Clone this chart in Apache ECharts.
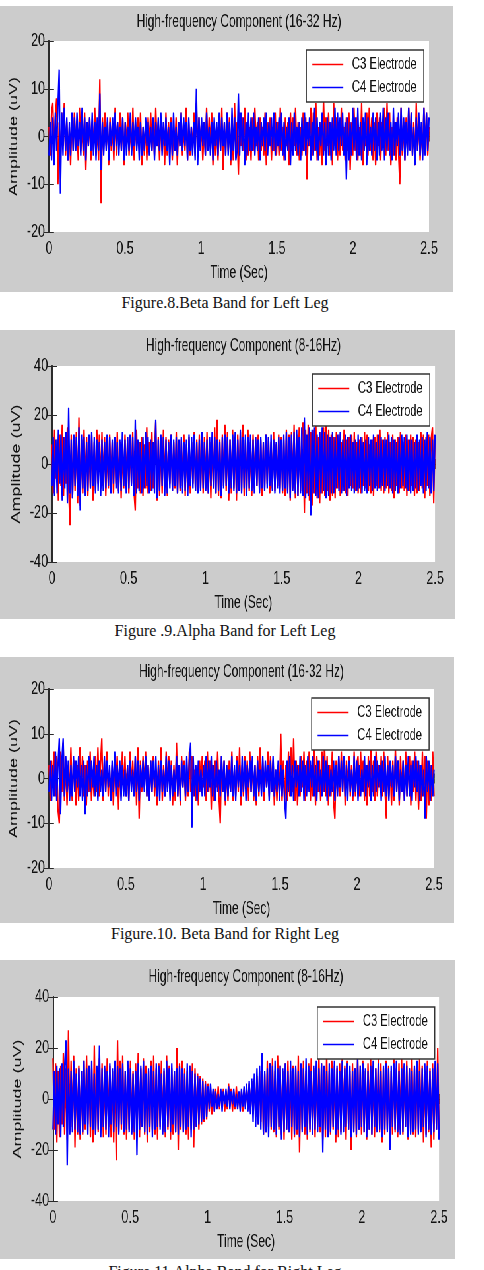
<!DOCTYPE html>
<html>
<head>
<meta charset="utf-8">
<script src="https://cdn.jsdelivr.net/npm/echarts@6/dist/echarts.min.js"></script>
<style>
  html, body { margin: 0; padding: 0; background: #fff; }
  body { width: 484px; height: 1270px; position: relative; overflow: hidden; }
  .panel { position: absolute; left: 0; background: #cccccc; transform-origin: 0 0; }
  .caption { position: absolute; left: 0; width: 450px; text-align: center;
    font-family: 'Liberation Serif', 'Times New Roman', serif; font-size: 16px; color: #111; }
</style>
</head>
<body>
<div class="panel" id="p1"></div>
<div class="caption" style="top:294px">Figure.8.Beta Band for Left Leg</div>
<div class="panel" id="p2"></div>
<div class="caption" style="top:622px">Figure .9.Alpha Band for Left Leg</div>
<div class="panel" id="p3"></div>
<div class="caption" style="top:925px">Figure.10. Beta Band for Right Leg</div>
<div class="panel" id="p4"></div>
<div class="caption" style="top:1263px">Figure.11.Alpha Band for Right Leg</div>
<script>
const electrodes = ['C3 Electrode', 'C4 Electrode'];
const titles = ['High-frequency Component (16-32 Hz)', 'High-frequency Component (8-16Hz)'];
const duration = 2.5;

// amplitude (uV), evenly spaced over 0 - 2.5 s
const leftBetaC3 = [
  2, -4, 5, 7, -3, 4, 8, -10, 3, -6, 5, -2, 7, -4, 3, -5, 2, -6, 4, -3,
  5, -2, 3, -5, 6, -3, 2, -4, 5, -7, 3, -2, 4, -5, 3, -3, 6, -4, 2, -5,
  12, -14, 4, -3, 5, -2, 3, -6, 4, -3, 2, -5, 6, -4, 3, -2, 5, -3, 4, -6,
  3, -2, 5, -4, 2, -3, 6, -5, 3, -2, 4, -3, 5, -6, 2, -4, 3, -5, 4, -2,
  5, -3, 2, -4, 6, -2, 3, -5, 4, -3, 2, -6, 5, -4, 3, -2, 4, -5, 2, -3,
  4, -6, 3, -2, 5, -4, 2, -3, 6, -5, 3, -4, 2, -3, 5, -4, 7, -3, 4, -2,
  3, -5, 2, -4, 6, -3, 4, -2, 5, -6, 3, -4, 2, -5, 4, -3, 6, -7, 3, -4,
  5, -3, 4, -6, 2, -5, 7, -4, 3, -8, 5, -2, 4, -3, 6, -5, 3, -4, 2, -5,
  4, -3, 6, -2, 3, -5, 4, -3, 2, -4, 5, -6, 3, -2, 4, -5, 2, -3, 5, -4,
  3, -4, 6, -3, 2, -5, 4, -2, 3, -6, 5, -3, 4, -2, 6, -4, 3, -5, 2, -4,
  5, -3, 4, -9, 3, -2, 6, -4, 5, -3, 7, -5, 2, -4, 3, -6, 8, -3, 4, -2,
  5, -4, 3, -6, 7, -2, 4, -5, 3, -4, 6, -3, 2, -5, 4, -3, 5, -7, 3, -4,
  6, -3, 4, -5, 2, -4, 7, -6, 3, -2, 5, -4, 6, -3, 4, -5, 3, -6, 5, -2,
  4, -5, 3, -2, 6, -4, 7, -3, 5, -6, 2, -4, 3, -5, 4, -3, -10, 6, -4, 3,
  -5, 4, -3, 6, -2, 5, -4, 3, -6, 7, -3, 4, -5, 2, -4, 6, -3, 5, -4, 2
];
const leftBetaC4 = [
  -4, 3, -5, 4, -6, 5, -3, 6, 14, -12, 5, -4, 6, -3, 4, -5, 3, -4, 5, -3,
  4, -3, 5, -2, 3, -4, 6, -3, 4, -5, 3, -2, 4, -3, 5, -4, 3, -5, 4, -3,
  9, -7, 3, -4, 2, -3, 4, -5, 3, -2, 4, -3, 5, -2, 3, -4, 2, -3, 4, -5,
  3, -4, 2, -3, 5, -4, 3, -2, 4, -3, 2, -5, 3, -4, 2, -3, 4, -2, 3, -4,
  2, -3, 4, -5, 3, -2, 4, -3, 5, -4, 3, -2, 4, -3, 2, -6, 3, -4, 5, -3,
  2, -4, 3, -2, 5, -3, 4, -2, 3, -5, 4, -3, 2, -4, 3, -5, 10, -6, 4, -3,
  4, -2, 3, -4, 5, -3, 2, -4, 3, -5, 4, -2, 3, -4, 5, -3, 4, -2, 3, -4,
  5, -4, 3, -5, 6, -3, 4, -5, -3, 9, -4, 5, -3, 4, -6, 3, -4, 5, -3, 4,
  -3, 5, -4, 2, -3, 4, -5, 3, -2, 4, -3, 5, -4, 3, -2, 4, -3, 5, -4, 3,
  -2, 4, -3, 5, -4, 3, -5, 2, -3, 4, -6, 3, -4, 5, -3, 2, -4, 3, -5, 4,
  -3, 5, -4, 3, -2, 4, -5, 3, -4, 6, -3, 4, -5, 3, -2, 5, -4, 3, -6, 4,
  -4, 3, -5, 4, -3, 6, -4, 5, -3, 4, -2, 5, -4, 3, -9, 4, -5, 3, -4, 6,
  -3, 4, -5, 6, -4, 3, -5, 4, -3, 5, -6, 4, -3, 2, -4, 5, -3, 4, -5, 3,
  -4, 5, -3, 6, -5, 4, -3, 5, -4, 3, -5, 6, -4, 3, -2, 5, -4, 6, -3, 4,
  -5, 3, -4, 6, -3, 5, -4, 2, -6, 4, -3, 5, -4, 3, -5, 6, -4, 5, -3, 4
];
const leftAlphaC3 = [
  8, -12, 14, -6, 10, -15, 12, -9, 16, -13, 11, -8, 15, -10, -25, 12, -14, 9, -11, 13,
  -16, 19, -17, 10, -12, 14, -9, 11, -13, 8, -10, 12, -15, 9, -11, 14, -8, 12, -10, 13,
  -9, 11, -13, 8, -10, 12, -7, 9, -12, 10, -8, 13, -11, 9, -14, 7, -10, 12, -9, 11,
  -12, 10, -8, 13, -11, -19, 14, -10, 9, -12, 11, -13, 8, -10, 15, -12, 9, -11, 13, -10,
  -10, 17, -15, 11, -13, 10, -12, 14, -9, 11, -13, 10, -8, 12, -11, 9, -10, 13, -12, 8,
  -11, 10, -9, 12, -13, 8, -10, 11, -12, 9, -8, 13, -11, 10, -9, 12, -10, 8, -12, 11,
  -10, 13, -12, 9, -14, 11, -10, 15, -12, 18, -13, 10, -14, 12, -9, 16, -11, 13, -15, 10,
  -12, 14, -10, 11, -15, 12, -9, 13, -11, 16, -13, 10, -12, 14, -11, 9, -13, 12, -10, 11,
  -9, 12, -11, 10, -13, 9, -10, 12, -8, 11, -12, 9, -10, 13, -11, 8, -9, 12, -10, 11,
  -12, 10, -13, 14, -11, 12, -15, 13, -10, 16, -14, 12, -13, 15, -11, 13, 17, -20, 14, -12,
  16, -15, 13, -17, 14, -12, 16, -14, 11, -16, 13, -12, 15, -13, 17, -11, 14, -15, 12, -13,
  11, -14, 13, -10, 12, -13, 9, -11, 14, -12, 10, -13, 11, -9, 12, -10, 13, -11, 9, -12,
  10, -12, 11, -9, 13, -10, 12, -11, 8, -12, 10, -13, 11, -9, 12, -10, 14, -11, 10, -12,
  11, -10, 13, -12, 9, -11, 12, -14, 10, -9, 11, -12, 13, -10, 9, -11, 12, -13, 10, -11,
  12, -9, 11, -13, 10, -12, 9, -11, 13, -10, 12, -14, 11, -9, 12, -13, 10, 15, -16, 11
];
const leftAlphaC4 = [
  -9, 11, -13, 10, -12, 14, -8, 12, -15, 11, -10, 13, -16, 23, -12, 10, -14, 12, -9, 11,
  -13, 15, -19, 12, -10, 11, -13, 9, -11, 12, -10, 13, -9, 11, -12, 10, -11, 9, -13, 10,
  -11, 9, -10, 12, -9, 11, -12, 10, -8, 11, -10, 9, -12, 10, -11, 13, -9, 10, -12, 11,
  -10, 12, -9, 11, -13, 18, -12, 10, -11, 9, -12, 11, -10, 13, -9, 11, -12, 10, -11, 9,
  -12, 18, -14, 10, -11, 12, -9, 11, -13, 10, -12, 9, -10, 12, -11, 10, -9, 11, -12, 10,
  -10, 11, -12, 9, -11, 10, -13, 12, -9, 11, -10, 12, -11, 9, -12, 10, -11, 13, -10, 9,
  -11, 10, -12, 11, -9, 13, -10, 11, -12, 10, -11, 9, -13, 11, -10, 12, -9, 11, -12, 10,
  -10, 12, -11, 13, -12, 10, -11, 14, -12, 11, -10, 12, -13, 11, -10, 12, -11, 10, -12, 11,
  -9, 10, -12, 11, -10, 9, -11, 12, -10, 11, -9, 12, -11, 10, -12, 9, -10, 11, -12, 10,
  -11, 12, -10, 13, -12, 11, -14, 12, -11, 13, -12, 14, -13, 11, -12, 15, -13, 19, -14, 12,
  -13, 15, -21, 14, -12, 15, -13, 12, -14, 13, -12, 15, -11, 13, -14, 12, -13, 11, -12, 13,
  -12, 11, -10, 12, -11, 13, -12, 10, -11, 12, -13, 11, -10, 12, -11, 9, -12, 10, -11, 12,
  -10, 11, -12, 9, -11, 10, -12, 11, -9, 10, -11, 12, -10, 9, -11, 12, -10, 11, -9, 10,
  -11, 10, -9, 12, -10, 11, -12, 10, -11, 9, -12, 11, -10, 12, -9, 11, -10, 12, -11, 10,
  -12, 10, -11, 9, -10, 12, -11, 10, -9, 11, -12, 10, -11, 13, -10, 11, -12, 10, -11, 12
];
const rightBetaC3 = [
  3, -5, 4, -2, 6, -4, 5, -7, -10, 6, -3, 8, -5, 4, -6, 3, -4, 7, -5, 2,
  4, -6, 3, -5, 7, -2, 5, -4, 3, -6, 4, -3, 6, -5, 2, -4, 5, -3, 7, -4,
  3, 9, -5, 4, -3, 6, -4, 2, -5, 3, -6, 4, -2, 5, -7, 3, -4, 6, -3, 5,
  -4, 3, -5, 6, -2, 4, -3, 5, -6, 7, -9, 4, -3, 5, -2, 6, -4, 3, -5, 4,
  -3, 5, -4, 2, -6, 4, -3, 7, -5, 3, -4, 6, -2, 5, -3, 4, -6, 3, -5, 8,
  -4, 3, -6, 5, -2, 4, -5, 3, -4, 6, -3, 5, -4, 2, -5, 3, -6, 4, -3, 5,
  -2, 4, -5, 6, -3, 4, -7, 3, -5, 4, -2, 6, -4, -10, 5, -3, 4, -6, 3, -5,
  4, -3, 6, -5, 2, -4, 5, -3, 7, -6, 3, -4, 5, -2, 4, -5, 6, -3, 4, -5,
  3, -6, 5, -4, 7, -3, 4, -5, 3, -2, 6, -4, 5, -3, 4, -6, 2, -5, 3, -4,
  10, -5, 4, -6, 3, -5, 6, -4, 7, -3, 9, -5, 4, -6, 3, -4, 5, -2, 6, -5,
  4, -3, 6, -5, 3, -4, 7, -6, 5, -3, 4, -5, 6, -3, 8, -4, 5, -6, 3, -4,
  6, -5, -9, 4, -3, 5, -4, 6, -3, 5, -6, 4, -2, 5, -4, 3, -5, 6, -4, 3,
  5, -4, 6, -3, 4, -5, 3, -6, 5, -4, 7, -3, 4, -5, 6, -4, 3, -2, 5, -4,
  6, -3, -9, 5, -4, 3, -6, 4, -5, 7, -3, 4, -6, 5, -3, 4, -5, 6, -4, 3,
  5, -6, 4, -3, 6, -5, 4, -7, 3, -5, 6, -4, 5, -9, 4, -6, 3, -5, 6, -4
];
const rightBetaC4 = [
  -3, 4, -5, 3, -4, 6, -5, 3, 9, -8, 4, 9, -4, 5, -3, 4, -5, 3, -4, 5,
  -3, 4, -2, 5, -4, 3, -5, 4, -8, 3, -4, 5, -3, 4, -2, 5, -4, 3, -5, 4,
  -3, 2, -4, 5, -3, 4, -2, 3, -5, 4, -3, 6, -4, 3, -2, 4, -5, 3, -4, 2,
  -4, 3, -5, 4, -3, 2, -4, 5, -3, 4, -5, 3, -2, 4, -3, 5, -4, 3, -5, 4,
  -3, 4, -2, 5, -4, 3, -5, 4, -3, 2, -4, 5, -3, 4, -5, 3, -4, 2, -3, 5,
  -4, 3, -5, 4, -2, 3, -4, 5, -3, 4, 8, -11, 5, -4, 3, -5, 4, -3, 2, -4,
  3, -4, 5, -3, 4, -2, 5, -4, 3, -5, 4, -3, 2, -4, 5, -3, 4, -5, 3, -4,
  2, -3, 5, -4, 3, -5, 4, -2, 3, -4, 5, -3, 4, -5, 3, -2, 4, -3, 5, -4,
  3, -5, 4, -3, 2, -4, 5, -3, 4, -2, 3, -5, 4, -3, 5, -4, 2, -3, 4, -5,
  3, -4, 2, -5, -9, 4, -3, 5, -4, 3, -5, 4, -2, 3, -4, 5, -3, 4, -5, 3,
  -4, 5, -3, 4, -2, 5, -4, 3, -5, 4, -3, 2, -4, 5, -3, 4, -5, 3, -4, 2,
  -3, 4, -5, 3, -4, 5, -2, 4, -3, 5, -4, 3, -5, 4, -3, 2, -4, 5, -3, 4,
  -5, 3, -4, 2, -3, 5, -4, 3, -2, 4, -5, 3, -4, 5, -3, 4, -2, 3, -5, 4,
  -3, 5, -4, 3, -5, 4, -2, 3, -4, 5, -3, 4, -5, 2, -3, 4, -5, 3, -4, 5,
  -4, 3, -5, 4, -2, 5, -3, 4, -5, 3, -4, 2, -9, 5, -3, 4, -5, 3, -4, 2
];
const rightAlphaC3 = [
  16, -12, 14, -17, 11, -15, 13, -10, 18, -14, 12, -16, 27, -13, 15, -11, 17, -19, 12, -14,
  13, -16, 11, -14, 15, -12, 17, -10, 13, -15, 12, -17, 21, -14, 11, -13, 16, -12, 14, -15,
  12, -14, 16, -11, 13, -15, 11, -17, 14, -24, 23, -13, 15, -12, 17, -14, 11, -16, 13, -12,
  15, -13, 11, -16, 14, -12, 18, -15, 12, -11, 16, -14, 13, -17, 11, -13, 15, -12, 17, -14,
  12, -16, 14, -11, 15, -13, 11, -15, 17, -12, 13, -16, 12, -14, 11, -13, 20, -20, 14, -12,
  15, -13, 12, -14, 11, -16, 13, -12, 14, -19, 12, -11, 10, -12, 9, -10, 8, -9, 7, -8,
  6, -5, 4, -6, 3, -5, 4, -3, 5, -4, 3, -2, 4, -5, 3, -4, 6, -3, 4, -5,
  3, -4, 5, -3, 2, -4, 3, -5, 4, -3, 5, -4, 6, -5, 7, -6, 8, -7, 9, -10,
  11, -9, 12, -14, 10, -13, 15, -11, 14, -12, 16, -13, 11, -15, 17, -12, 13, -14, 11, -16,
  14, -12, 15, -13, 11, -16, 13, -15, 12, -14, 17, -21, 13, -12, 15, -14, 11, -16, 14, -13,
  16, -14, 12, -15, 13, -11, 17, -13, 14, -16, 12, -15, 18, -13, 11, -14, 15, -12, 13, -17,
  12, -15, 14, -13, 16, -11, 13, -16, 15, -12, 11, -20, 14, -13, 12, -15, 17, -12, 13, -14,
  15, -13, 11, -16, 14, -12, 17, -14, 13, -15, 12, -11, 16, -13, 14, -17, 12, -14, 15, -12,
  13, -16, 11, -14, 17, -13, 12, -15, 14, -12, 16, -14, 13, -11, 15, -16, 12, -13, 18, -14,
  12, -15, 14, -13, 16, -12, 13, -17, 11, -14, 15, -13, 12, -19, 14, -16, 13, -12, 20, -15
];
const rightAlphaC4 = [
  -12, 11, -14, 13, -10, 12, -15, 14, -11, 13, 23, -26, 12, -14, 11, -13, 15, -12, 10, -13,
  12, -14, 11, -13, 15, -10, 12, -14, 13, -11, 15, -12, 10, -14, 13, -12, 21, -15, 12, -11,
  13, -12, 11, -15, 14, -10, 12, -13, 15, -11, 13, -14, 12, -10, 14, -13, 11, -12, 15, -13,
  12, -14, 10, -13, 11, -22, 14, -12, 13, -11, 15, -13, 10, -14, 12, -11, 13, -15, 11, -12,
  14, -11, 13, -12, 10, -14, 12, -13, 15, -11, 12, -13, 14, -10, 11, -13, 12, -14, 13, -11,
  12, -13, 10, -12, 14, -11, 13, -15, 11, -12, 10, -11, 9, -10, 8, -9, 7, -8, 6, -7,
  5, -4, 6, -3, 4, -5, 3, -4, 2, -3, 4, -5, 3, -2, 4, -3, 5, -4, 3, -2,
  4, -3, 2, -4, 3, -5, 4, -3, 5, -4, 6, -5, 7, -6, 8, -9, 10, -11, 12, -10,
  13, -12, 18, -14, 11, -13, 12, -15, 14, -11, 13, -12, 15, -14, 12, -11, 13, -16, 12, -13,
  14, -12, 11, -13, 15, -11, 12, -14, 13, -12, 11, -15, 14, -13, 12, -11, 16, -14, 13, -12,
  11, -14, 13, -12, 15, -13, 12, -11, 14, -21, 13, -12, 11, -15, 14, -13, 12, -11, 15, -14,
  13, -12, 11, -14, 15, -13, 12, -11, 14, -12, 13, -15, 11, -13, 12, -14, 16, -12, 13, -11,
  14, -13, 12, -15, 11, -12, 13, -14, 15, -11, 12, -13, 14, -12, 11, -15, 13, -12, 14, -13,
  12, -20, 13, -11, 14, -12, 15, -13, 11, -14, 12, -13, 14, -11, 13, -15, 12, -14, 11, -13,
  13, -12, 15, -14, 11, -13, 12, -11, 14, -15, 13, -12, 11, -14, 12, -13, 15, -12, 14, -16
];

// the reference figure is squeezed horizontally; charts are drawn wide and scaled back
const squeeze = 0.66;
const sx = v => v / squeeze;
const sans = "'Liberation Sans', Arial, sans-serif";
const ink = '#111';
const frame = '#2a2a2a';

function toPoints(values) {
  const step = duration / (values.length - 1);
  return values.map((v, i) => [i * step, v]);
}

function makeOption(p) {
  const g = p.grid;
  const xBase = {
    type: 'value', min: 0, max: duration, interval: 0.5, splitLine: { show: false },
    axisLine: { show: true, lineStyle: { color: frame, width: 1.2 } },
    axisTick: { show: true, inside: true, length: 5, lineStyle: { color: frame, width: sx(1) } }
  };
  const yBase = {
    type: 'value', min: -p.yMax, max: p.yMax, interval: p.yMax / 2, splitLine: { show: false },
    axisLine: { show: true, lineStyle: { color: frame, width: sx(1.2) } },
    axisTick: { show: true, inside: true, length: sx(5), lineStyle: { color: frame, width: 1 } }
  };
  return {
    animation: false,
    title: {
      text: p.title,
      left: sx(g.left + g.width / 2),
      top: p.titleTop,
      textAlign: 'center',
      padding: 0,
      textStyle: { fontFamily: sans, fontSize: 18, fontWeight: 'normal', color: ink }
    },
    grid: { show: true, backgroundColor: '#fff', borderWidth: 0,
      left: sx(g.left), top: g.top, width: sx(g.width), height: g.height },
    legend: {
      data: electrodes,
      orient: 'vertical',
      right: sx(p.legendRight),
      top: p.legendTop,
      icon: 'rect',
      itemWidth: sx(31),
      itemHeight: 1.5,
      itemGap: 6,
      padding: [6, sx(7), 6, sx(6)],
      backgroundColor: '#fff',
      borderColor: '#333',
      borderWidth: sx(1),
      borderRadius: 0,
      textStyle: { fontFamily: sans, fontSize: 17, color: ink, padding: [0, 0, 0, 8] }
    },
    xAxis: [
      Object.assign({}, xBase, {
        position: 'bottom',
        name: 'Time (Sec)', nameLocation: 'middle', nameGap: 32,
        nameTextStyle: { fontFamily: sans, fontSize: 18, color: ink },
        axisLabel: { fontFamily: sans, fontSize: 19, color: ink, margin: 7, showMinLabel: true, showMaxLabel: true }
      }),
      Object.assign({}, xBase, { position: 'top', axisLabel: { show: false } })
    ],
    yAxis: [
      Object.assign({}, yBase, {
        position: 'left',
        name: 'Amplitude (uV)', nameLocation: 'middle', nameGap: sx(25),
        nameTextStyle: { fontFamily: sans, fontSize: 18, color: ink },
        axisLabel: { fontFamily: sans, fontSize: 19, color: ink, margin: sx(4), showMinLabel: true, showMaxLabel: true }
      }),
      Object.assign({}, yBase, { position: 'right', axisLabel: { show: false } })
    ],
    series: [
      { name: electrodes[0], type: 'line', data: toPoints(p.c3), showSymbol: false, symbol: 'none',
        lineStyle: { color: '#ff0000', width: 2.2 }, itemStyle: { color: '#ff0000' } },
      { name: electrodes[1], type: 'line', data: toPoints(p.c4), showSymbol: false, symbol: 'none',
        lineStyle: { color: '#0000ff', width: 2.2 }, itemStyle: { color: '#0000ff' } }
    ]
  };
}

// positions in page pixels, as measured on the figure
const panels = [
  { id: 'p1', box: { top: 6, width: 453, height: 286 }, title: titles[0], titleTop: 7, yMax: 20,
    c3: leftBetaC3, c4: leftBetaC4,
    grid: { left: 49, top: 35, width: 380, height: 191 }, legendTop: 44, legendRight: 29 },
  { id: 'p2', box: { top: 330, width: 455, height: 289 }, title: titles[1], titleTop: 7, yMax: 40,
    c3: leftAlphaC3, c4: leftAlphaC4,
    grid: { left: 52, top: 36, width: 383, height: 196 }, legendTop: 44, legendRight: 25 },
  { id: 'p3', box: { top: 657, width: 454, height: 266 }, title: titles[0], titleTop: 6, yMax: 20,
    c3: rightBetaC3, c4: rightBetaC4,
    grid: { left: 49, top: 32, width: 385, height: 179 }, legendTop: 41, legendRight: 25 },
  { id: 'p4', box: { top: 960, width: 455, height: 299 }, title: titles[1], titleTop: 8, yMax: 40,
    c3: rightAlphaC3, c4: rightAlphaC4,
    grid: { left: 53, top: 37, width: 386, height: 204 }, legendTop: 47, legendRight: 20 }
];

panels.forEach(p => {
  const el = document.getElementById(p.id);
  el.style.top = p.box.top + 'px';
  el.style.width = sx(p.box.width) + 'px';
  el.style.height = p.box.height + 'px';
  el.style.transform = 'scaleX(' + squeeze + ')';
  const chart = echarts.init(el);
  chart.setOption(makeOption(p));
});
</script>
</body>
</html>
